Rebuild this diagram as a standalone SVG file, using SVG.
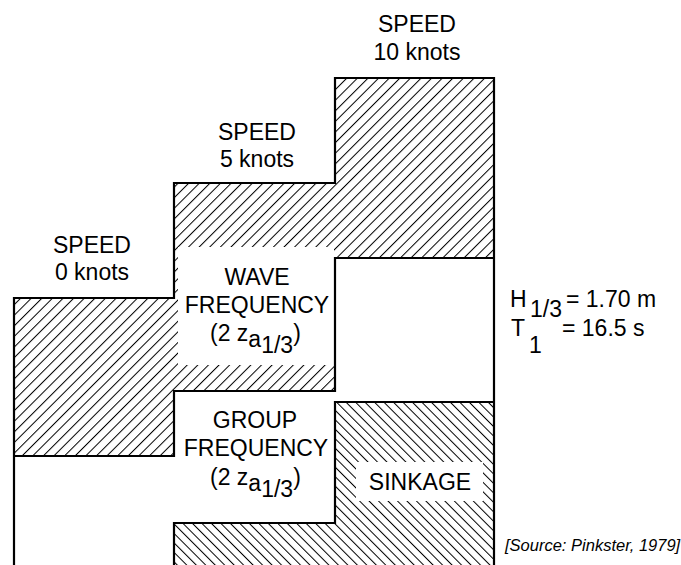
<svg xmlns="http://www.w3.org/2000/svg" width="681" height="565" viewBox="0 0 681 565">
<defs>
<pattern id="hatchF" patternUnits="userSpaceOnUse" width="7.5" height="10" patternTransform="rotate(45)">
<line x1="0.5" y1="0" x2="0.5" y2="10" stroke="#000" stroke-width="1"/>
</pattern>
<pattern id="hatchB" patternUnits="userSpaceOnUse" width="6.7" height="10" patternTransform="rotate(-45)">
<line x1="0.5" y1="0" x2="0.5" y2="10" stroke="#000" stroke-width="1"/>
</pattern>
</defs>
<style>
text{font-family:"Liberation Sans",Arial,sans-serif;fill:#000}
.lbl{font-size:23px;text-anchor:middle}
.sea{font-size:23px}
.src{font-size:16.5px;font-style:italic}
.edge{fill:none;stroke:#000;stroke-width:2.2;stroke-linejoin:miter}
.mask{fill:#fff}
</style>
<rect width="681" height="565" fill="#fff"/>
<g id="hatch-regions">
<path id="wave-hatch" d="M14,298 L174,298 L174,183 L335,183 L335,78 L494,78 L494,258 L335,258 L335,391 L174,391 L174,456 L14,456 Z" fill="url(#hatchF)"/>
<rect class="mask" x="178" y="247" width="156" height="118"/>
<path id="sinkage-hatch" d="M174,565 L174,523 L335,523 L335,402 L494,402 L494,565 Z" fill="url(#hatchB)"/>
<rect class="mask" x="356" y="462" width="127" height="39"/>
</g>
<g id="connectors">
<path class="edge" d="M14,565 L14,298 L174,298 L174,183 L335,183 L335,78 L494,78 L494,565"/>
<path class="edge" d="M494,258 L335,258 L335,391 L174,391 L174,456 L14,456"/>
<path class="edge" d="M494,402 L335,402 L335,523 L174,523 L174,565"/>
</g>
<g id="speed-0">
<text class="lbl" x="92" y="253">SPEED</text>
<text class="lbl" x="92" y="280">0 knots</text>
</g>
<g id="speed-5">
<text class="lbl" x="257" y="140">SPEED</text>
<text class="lbl" x="257" y="167">5 knots</text>
</g>
<g id="speed-10">
<text class="lbl" x="417" y="32">SPEED</text>
<text class="lbl" x="417" y="60">10 knots</text>
</g>
<g id="wave-frequency">
<text class="lbl" x="257" y="285">WAVE</text>
<text class="lbl" x="257" y="313">FREQUENCY</text>
<text style="font-size:23px" x="210" y="341">(2 z<tspan dy="6">a</tspan><tspan dy="6">1/3</tspan><tspan dy="-12">)</tspan></text>
</g>
<g id="group-frequency">
<text class="lbl" x="255" y="428">GROUP</text>
<text class="lbl" x="256" y="456">FREQUENCY</text>
<text style="font-size:23px" x="210" y="485">(2 z<tspan dy="6">a</tspan><tspan dy="6">1/3</tspan><tspan dy="-12">)</tspan></text>
</g>
<g id="sinkage">
<text class="lbl" x="420" y="490">SINKAGE</text>
</g>
<g id="sea-state">
<text class="sea" x="510" y="307">H<tspan x="530" dy="10">1/3</tspan><tspan x="566" dy="-10">= 1.70 m</tspan></text>
<text class="sea" x="511" y="336">T<tspan x="529" dy="17">1</tspan><tspan x="562" dy="-17">= 16.5 s</tspan></text>
</g>
<g id="source">
<text class="src" x="505" y="551">[Source: Pinkster, 1979]</text>
</g>
</svg>
